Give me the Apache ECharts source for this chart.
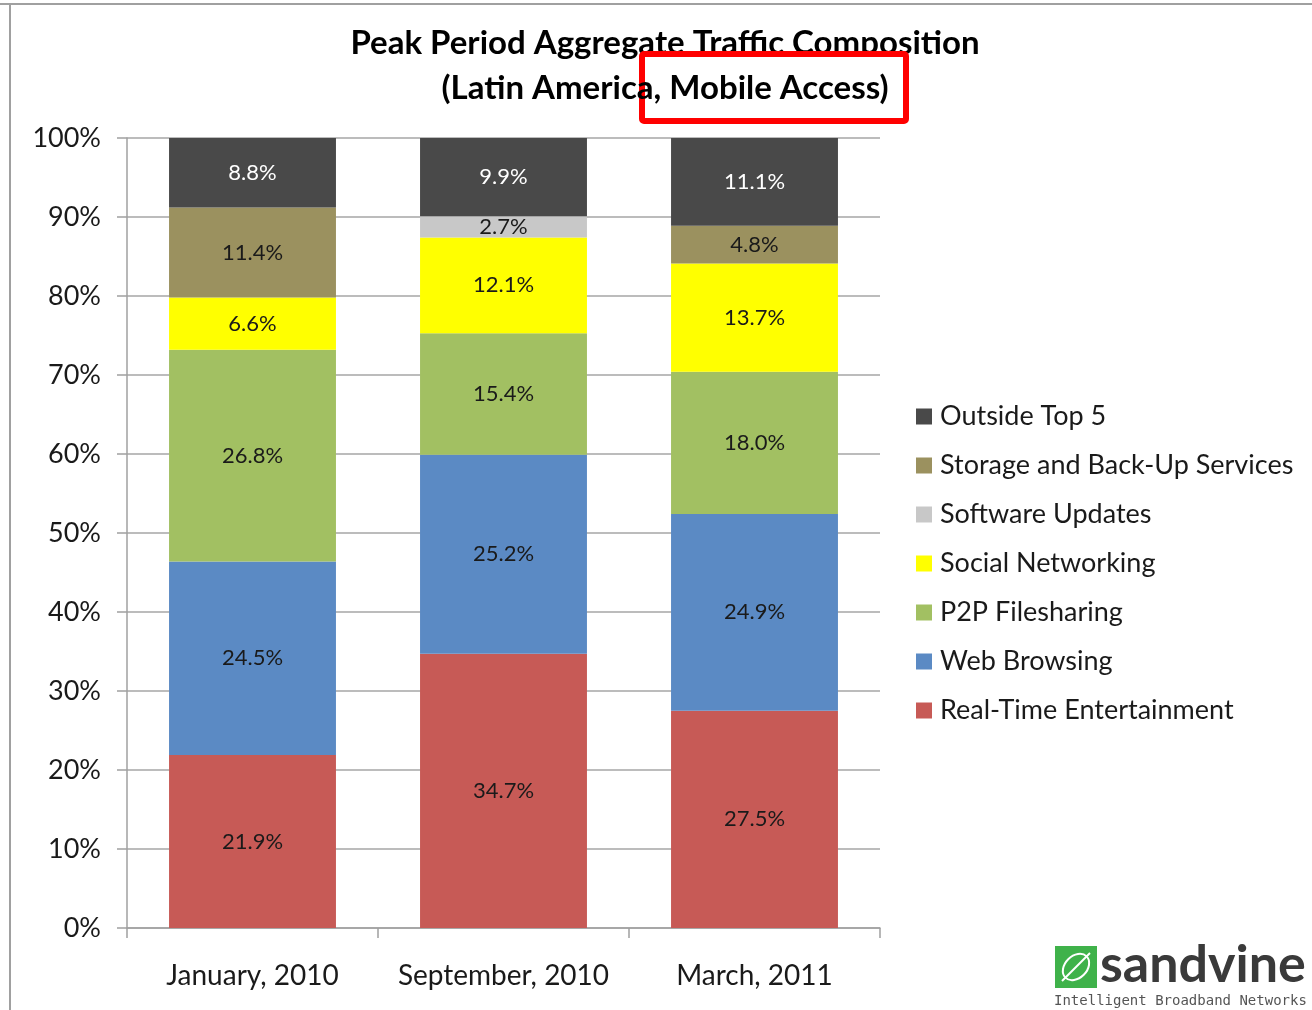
<!DOCTYPE html>
<html>
<head>
<meta charset="utf-8">
<script src="https://cdn.jsdelivr.net/npm/echarts@6/dist/echarts.min.js"></script>
<style>
  html, body { margin: 0; padding: 0; background: #fff; }
  #chart { width: 1312px; height: 1010px; }
</style>
</head>
<body>
<div id="chart"></div>
<script>
const categories = ['January, 2010', 'September, 2010', 'March, 2011']
const realTime = [21.9, 34.7, 27.5]
const webBrowsing = [24.5, 25.2, 24.9]
const p2p = [26.8, 15.4, 18.0]
const social = [6.6, 12.1, 13.7]
const softwareUpdates = [null, 2.7, null]
const storage = [11.4, null, 4.8]
const outsideTop5 = [8.8, 9.9, 11.1]
const yTicks = [0, 10, 20, 30, 40, 50, 60, 70, 80, 90, 100]

const FONT = 'Lato, "Open Sans", sans-serif'

// stacked from bottom to top
const seriesDefs = [
  { name: 'Real-Time Entertainment', data: realTime, color: '#c75a56', label: '#1a1a1a' },
  { name: 'Web Browsing', data: webBrowsing, color: '#5b8ac4', label: '#1a1a1a' },
  { name: 'P2P Filesharing', data: p2p, color: '#a2c062', label: '#1a1a1a' },
  { name: 'Social Networking', data: social, color: '#ffff00', label: '#1a1a1a' },
  { name: 'Software Updates', data: softwareUpdates, color: '#c8c8c8', label: '#1a1a1a' },
  { name: 'Storage and Back-Up Services', data: storage, color: '#9b915f', label: '#1a1a1a' },
  { name: 'Outside Top 5', data: outsideTop5, color: '#494949', label: '#ffffff' }
]

const series = seriesDefs.map(s => ({
  name: s.name,
  type: 'bar',
  stack: 'total',
  barWidth: '66.5%',
  data: s.data,
  itemStyle: { color: s.color },
  label: {
    show: true,
    position: 'inside',
    color: s.label,
    fontFamily: FONT,
    fontSize: 22,
    formatter: p => p.value == null ? '' : p.value.toFixed(1) + '%'
  }
}))

const option = {
  backgroundColor: '#fff',
  animation: false,
  grid: { left: 127, right: 432, top: 138, bottom: 82 },
  legend: {
    orient: 'vertical',
    left: 916,
    top: 403,
    padding: 0,
    itemWidth: 16,
    itemHeight: 16,
    itemGap: 22,
    icon: 'rect',
    data: seriesDefs.map(s => s.name).reverse(),
    textStyle: { fontFamily: FONT, fontSize: 27, color: '#1a1a1a', lineHeight: 27, padding: [0, 0, 0, 3] }
  },
  xAxis: {
    type: 'category',
    data: categories,
    axisLine: { lineStyle: { color: '#a0a0a0', width: 1.5 } },
    axisTick: { show: true, length: 10, lineStyle: { color: '#a0a0a0', width: 1.5 } },
    axisLabel: { interval: 0, fontFamily: FONT, fontSize: 28, color: '#1a1a1a', margin: 34 }
  },
  yAxis: {
    type: 'value',
    min: yTicks[0],
    max: yTicks[yTicks.length - 1],
    interval: 10,
    axisLine: { show: true, lineStyle: { color: '#a0a0a0', width: 1.5 } },
    axisTick: { show: true, length: 10, lineStyle: { color: '#a0a0a0', width: 1.5 } },
    splitLine: { lineStyle: { color: '#a6a6a6', width: 1.5 } },
    axisLabel: { fontFamily: FONT, fontSize: 27, color: '#1a1a1a', margin: 26, formatter: '{value}%' }
  },
  series,
  graphic: [
    // frame edges
    { type: 'line', shape: { x1: 0, y1: 4, x2: 1312, y2: 4 }, style: { stroke: '#a0a0a0', lineWidth: 2 }, z: 1 },
    { type: 'line', shape: { x1: 10, y1: 4, x2: 10, y2: 1010 }, style: { stroke: '#a0a0a0', lineWidth: 2 }, z: 1 },
    // title
    { type: 'text', x: 665, y: 43, z: 10,
      style: { text: 'Peak Period Aggregate Traffic Composition', font: 'bold 33px ' + FONT, fill: '#000', align: 'center', verticalAlign: 'middle' } },
    // highlight box
    { type: 'rect', shape: { x: 642, y: 54, width: 264, height: 67, r: 2 }, z: 11,
      style: { fill: '#fff', stroke: '#ff0000', lineWidth: 6 } },
    { type: 'text', x: 665, y: 88, z: 12,
      style: { text: '(Latin America, Mobile Access)', font: 'bold 33px ' + FONT, fill: '#000', align: 'center', verticalAlign: 'middle' } },
    // logo
    { type: 'rect', shape: { x: 1055, y: 946, width: 42, height: 42 }, z: 10, style: { fill: '#3fb24a' } },
    { type: 'ellipse', shape: { cx: 1076, cy: 967, rx: 15, ry: 11 }, rotation: Math.PI / 4, originX: 1076, originY: 967, z: 11,
      style: { fill: 'none', stroke: '#fff', lineWidth: 2 } },
    { type: 'line', shape: { x1: 1062, y1: 981, x2: 1090, y2: 953 }, z: 11, style: { stroke: '#fff', lineWidth: 2 } },
    { type: 'text', x: 1100, y: 939, z: 10,
      style: { text: 'sandvine', font: 'bold 52px ' + FONT, fill: '#3a3a3a' } },
    { type: 'text', x: 1054, y: 994, z: 10,
      style: { text: 'Intelligent Broadband Networks', font: '14px "DejaVu Sans Mono", monospace', fill: '#555' } }
  ]
}

const chart = echarts.init(document.getElementById('chart'))
chart.setOption(option)
</script>
</body>
</html>
